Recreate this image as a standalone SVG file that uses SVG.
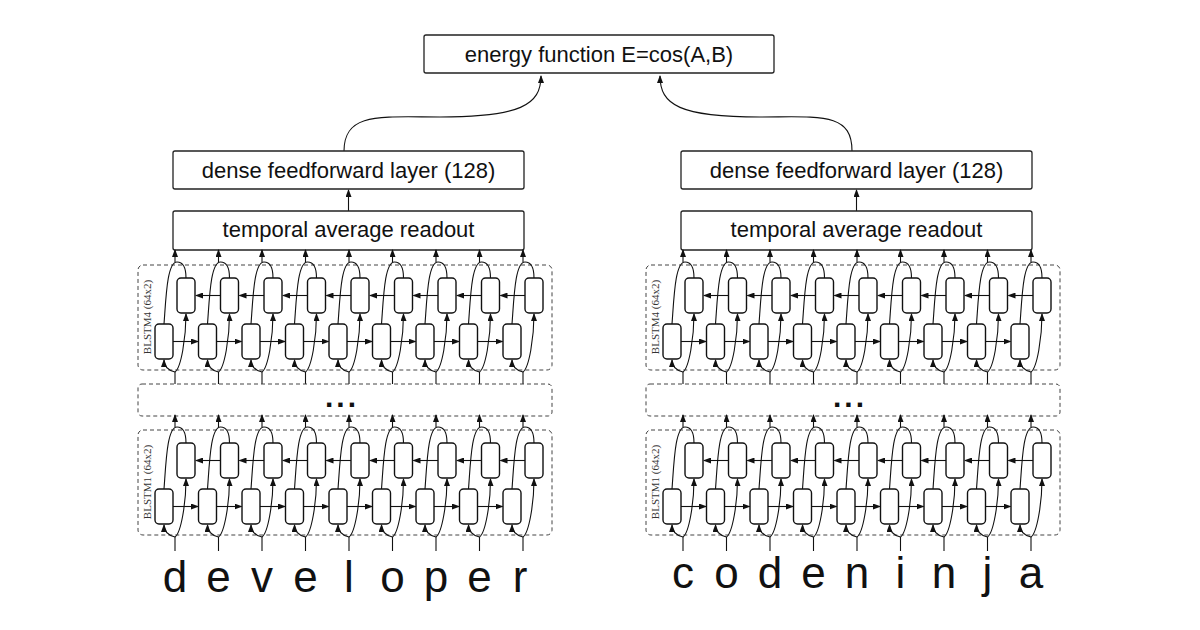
<svg xmlns="http://www.w3.org/2000/svg" xmlns:xlink="http://www.w3.org/1999/xlink" width="1200" height="630" viewBox="0 0 1200 630">
<style>
.box{fill:#fff;stroke:#222;stroke-width:1.3}
.dash{fill:none;stroke:#444;stroke-width:1;stroke-dasharray:4,3}
.cell{fill:#fff;stroke:#111;stroke-width:1.4}
.ln{fill:none;stroke:#111;stroke-width:1.1}
.lbl{font-family:"Liberation Sans",Arial,sans-serif;font-size:22px;fill:#111;text-anchor:middle}
.let{font-family:"Liberation Sans",Arial,sans-serif;font-size:44px;fill:#111;text-anchor:middle}
.rot{font-family:"Liberation Serif","Times New Roman",serif;font-size:11px;fill:#333;text-anchor:middle}
.dots{font-family:"Liberation Sans",Arial,sans-serif;font-size:30px;font-weight:bold;fill:#111;text-anchor:middle;letter-spacing:3px}
</style>
<defs>
<marker id="ah" markerWidth="8" markerHeight="6" refX="7" refY="3" orient="auto" markerUnits="userSpaceOnUse"><path d="M0,0 L8,3 L0,6 Z" fill="#111"/></marker>
<g id="unit">
<path class="ln" d="M0,94 C-8,92 -11,88 -11,82" marker-end="url(#ah)"/>
<path class="ln" d="M0,94 C6,90 11,60 11,36" marker-end="url(#ah)"/>
<path class="ln" d="M-11,46 C-9,20 -8,-16 2,-16 C8,-16 11,-10 11,0"/>
<path class="ln" d="M0,-16 L0,-28" marker-end="url(#ah)"/>
<rect class="cell" x="-20" y="46" width="18" height="35" rx="4"/>
<rect class="cell" x="2" y="0" width="18" height="35" rx="4"/>
</g>
<g id="link">
<path class="ln" d="M-2,63.5 L23,63.5" marker-end="url(#ah)"/>
<path class="ln" d="M45.5,17.5 L21,17.5" marker-end="url(#ah)"/>
</g>
<g id="layer">
<use xlink:href="#link" x="0"/><use xlink:href="#link" x="43.5"/><use xlink:href="#link" x="87"/><use xlink:href="#link" x="130.5"/><use xlink:href="#link" x="174"/><use xlink:href="#link" x="217.5"/><use xlink:href="#link" x="261"/><use xlink:href="#link" x="304.5"/>
<use xlink:href="#unit" x="0"/><use xlink:href="#unit" x="43.5"/><use xlink:href="#unit" x="87"/><use xlink:href="#unit" x="130.5"/><use xlink:href="#unit" x="174"/><use xlink:href="#unit" x="217.5"/><use xlink:href="#unit" x="261"/><use xlink:href="#unit" x="304.5"/><use xlink:href="#unit" x="348"/>
</g>
<g id="inputs">
<path class="ln" d="M0,0 V-12 M43.5,0 V-12 M87,0 V-12 M130.5,0 V-12 M174,0 V-12 M217.5,0 V-12 M261,0 V-12 M304.5,0 V-12 M348,0 V-12"/>
</g>
<g id="inputsLong">
<path class="ln" d="M0,0 V-14 M43.5,0 V-14 M87,0 V-14 M130.5,0 V-14 M174,0 V-14 M217.5,0 V-14 M261,0 V-14 M304.5,0 V-14 M348,0 V-14"/>
</g>
</defs>
<rect width="1200" height="630" fill="#fff"/>

<g id="connectors">
<path class="ln" d="M344,151 C344,112 380,117 440,117 C520,117 541,105 541,76" marker-end="url(#ah)"/>
<path class="ln" d="M852,151 C852,112 820,117 760,117 C680,117 660,105 660,76" marker-end="url(#ah)"/>
<path class="ln" d="M348.5,211 V190" marker-end="url(#ah)"/>
<path class="ln" d="M856.5,211 V190" marker-end="url(#ah)"/>
</g>

<g id="energy"><rect class="box" x="424" y="35" width="350" height="38" rx="2"/><text class="lbl" x="599" y="62">energy function E=cos(A,B)</text></g>

<g id="left-network">
<g id="dense-left"><rect class="box" x="173" y="151" width="351" height="38" rx="2"/><text class="lbl" x="348.5" y="178">dense feedforward layer (128)</text></g>
<g id="readout-left"><rect class="box" x="173" y="211" width="351" height="39" rx="2"/><text class="lbl" x="348.5" y="237">temporal average readout</text></g>
<g id="blstm4-left"><rect class="dash" x="138" y="265" width="414" height="105" rx="5"/><text class="rot" transform="translate(151,317) rotate(-90)">BLSTM4  (64x2)</text><use xlink:href="#layer" x="175" y="278"/><use xlink:href="#inputs" x="175" y="384"/></g>
<g id="dots-left"><rect class="dash" x="138" y="384" width="414" height="32" rx="4"/><text class="dots" x="342" y="407">...</text></g>
<g id="blstm1-left"><rect class="dash" x="138" y="430" width="414" height="105" rx="5"/><text class="rot" transform="translate(151,482) rotate(-90)">BLSTM1  (64x2)</text><use xlink:href="#layer" x="175" y="443"/><use xlink:href="#inputsLong" x="175" y="551"/></g>
<g id="word-left">
<text class="let" x="175" y="592">d</text><text class="let" x="218.5" y="592">e</text><text class="let" x="262" y="592">v</text><text class="let" x="305.5" y="592">e</text><text class="let" x="349" y="592">l</text><text class="let" x="392.5" y="592">o</text><text class="let" x="436" y="592">p</text><text class="let" x="479.5" y="592">e</text><text class="let" x="520" y="592">r</text>
</g>
</g>

<g id="right-network">
<g id="dense-right"><rect class="box" x="681" y="151" width="351" height="38" rx="2"/><text class="lbl" x="856.5" y="178">dense feedforward layer (128)</text></g>
<g id="readout-right"><rect class="box" x="681" y="211" width="351" height="39" rx="2"/><text class="lbl" x="856.5" y="237">temporal average readout</text></g>
<g id="blstm4-right"><rect class="dash" x="646" y="265" width="414" height="105" rx="5"/><text class="rot" transform="translate(659,317) rotate(-90)">BLSTM4  (64x2)</text><use xlink:href="#layer" x="683" y="278"/><use xlink:href="#inputs" x="683" y="384"/></g>
<g id="dots-right"><rect class="dash" x="646" y="384" width="414" height="32" rx="4"/><text class="dots" x="850" y="407">...</text></g>
<g id="blstm1-right"><rect class="dash" x="646" y="430" width="414" height="105" rx="5"/><text class="rot" transform="translate(659,482) rotate(-90)">BLSTM1  (64x2)</text><use xlink:href="#layer" x="683" y="443"/><use xlink:href="#inputsLong" x="683" y="551"/></g>
<g id="word-right">
<text class="let" x="683" y="588">c</text><text class="let" x="726.5" y="588">o</text><text class="let" x="770" y="588">d</text><text class="let" x="813.5" y="588">e</text><text class="let" x="857" y="588">n</text><text class="let" x="900.5" y="588">i</text><text class="let" x="944" y="588">n</text><text class="let" x="987.5" y="588">j</text><text class="let" x="1031" y="588">a</text>
</g>
</g>
</svg>
